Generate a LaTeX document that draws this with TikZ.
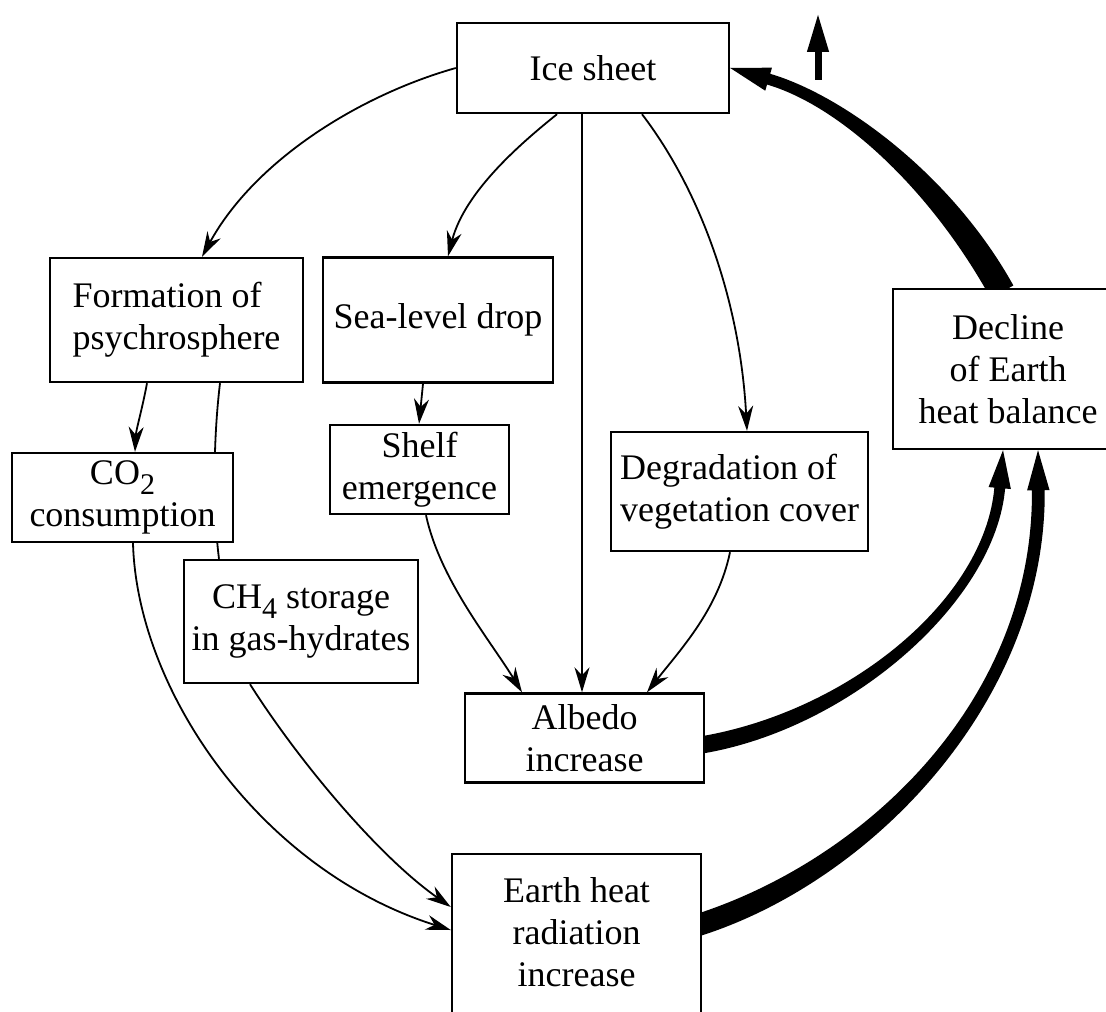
\documentclass[tikz,border=0pt]{standalone}
\usepackage{fontspec}
\setmainfont{Liberation Serif}
\usetikzlibrary{arrows.meta,calc}
\pgfdeclarelayer{background}
\pgfsetlayers{background,main}
\newcommand\mysub[1]{\raisebox{-5pt}{\fontsize{15}{15}\selectfont #1}}
% tapered thick arrow: #1 start, #2 ctrl1, #3 ctrl2, #4 tip, #5 half width at start, #6 half width at head, #7 head length, #8 head half width
\newcommand\taper[8]{%
  \coordinate (tpH) at ($(#4)!#7!(#3)$);
  \coordinate (tpSl) at ($(#1)!#5!90:(#2)$);
  \coordinate (tpSr) at ($(#1)!#5!-90:(#2)$);
  \coordinate (tpHl) at ($(tpH)!#6!-90:(#3)$);
  \coordinate (tpHr) at ($(tpH)!#6!90:(#3)$);
  \coordinate (tpAl) at ($(tpH)!#8!-90:(#3)$);
  \coordinate (tpAr) at ($(tpH)!#8!90:(#3)$);
  \fill[black] (tpSl) .. controls ($(#2)+(tpSl)-(#1)$) and ($(#3)+(tpHl)-(tpH)$) .. (tpHl)
     -- (tpAl) -- (#4) -- (tpAr) -- (tpHr)
     .. controls ($(#3)+(tpHr)-(tpH)$) and ($(#2)+(tpSr)-(#1)$) .. (tpSr) -- cycle;
}
\begin{document}
\begin{tikzpicture}[x=0.5pt,y=-0.5pt,
  box/.style={draw, line width=1.2pt, fill=white, inner sep=0pt, align=center,
              font=\fontsize{18}{21}\selectfont},
  txt/.style={inner sep=0pt, align=center, font=\fontsize{18}{21}\selectfont},
  conn/.style={line width=0.9pt, -{Stealth[length=12.5pt,width=7.5pt,inset=4pt]}},
]
\useasboundingbox (0,0) rectangle (1106,1011);
\clip (0,0) rectangle (1106,1011);

% nodes
\node[box, minimum width=136pt, minimum height=45pt] (ice) at (593,68) {Ice sheet};
\node[box, minimum width=126.5pt, minimum height=62pt, align=left] (form) at (176.5,320) {Formation of\\psychrosphere};
\node[box, minimum width=115pt, minimum height=62.5pt] (sea) at (438,320) {Sea-level drop};
\node[box, minimum width=89.5pt, minimum height=44.5pt] (shelf) at (419.5,469.5) {Shelf\\emergence};
\node[box, minimum width=110.5pt, minimum height=44.5pt] (co2) at (122.5,497.5) {CO\mysub{2}\\consumption};
\node[box, minimum width=117pt, minimum height=61.5pt] (ch4) at (301,621.5) {CH\mysub{4} storage\\in gas-hydrates};
\node[box, minimum width=128.5pt, minimum height=59.5pt, align=left] (deg) at (739.5,491.5) {Degradation of\\vegetation cover};
\node[box, minimum width=119.5pt, minimum height=44.5pt] (albedo) at (584.5,738) {Albedo\\increase};
\node[box, minimum width=124.5pt, minimum height=100pt, anchor=north] (earth) at (576.5,853) {};
\node[txt, anchor=north] (earthtxt) at (576.5,877) {Earth heat\\radiation\\increase};
\node[box, minimum width=115pt, minimum height=80pt] (decline) at (1008,369) {Decline\\of Earth\\heat balance};

% background connectors
\begin{pgfonlayer}{background}
  \draw[line width=0.9pt] ($(form.south)+(43.5,0)$) .. controls (212,450) and (214,520) .. ($(ch4.north)+(-82,0)$);
  % thick feedback arrows
  \coordinate (s12) at ($(albedo.east)+(-4,7)$);
  \coordinate (a12) at (850,720);
  \coordinate (b12) at (990,600);
  \coordinate (e12) at ($(decline.south)+(-5,0)$);
  \taper{s12}{a12}{b12}{e12}{4.3pt}{2.7pt}{19pt}{5.6pt}
  \coordinate (s13) at ($(earth.north east)+(-4,72)$);
  \coordinate (a13) at (870,870);
  \coordinate (b13) at (1040,700);
  \coordinate (e13) at ($(decline.south)+(30,0)$);
  \taper{s13}{a13}{b13}{e13}{5.5pt}{3.2pt}{20pt}{5.6pt}
  \coordinate (s14) at ($(decline.north)+(-6,4)$);
  \coordinate (a14) at (940,180);
  \coordinate (b14) at (840,100);
  \coordinate (e14) at (ice.east);
  \taper{s14}{a14}{b14}{e14}{6.5pt}{2.8pt}{20pt}{6pt}
\end{pgfonlayer}

% thin connectors
\draw[conn] (ice.west) .. controls (360,95) and (255,160) .. ($(form.north)+(25.5,0)$);
\draw[conn] ($(ice.south)+(-36,0)$) .. controls (525,140) and (465,190) .. ($(sea.north)+(10,0)$);
\draw[conn] ($(ice.south)+(-11,0)$) -- ($(albedo.north)+(-2.5,0)$);
\draw[conn] ($(ice.south)+(49,0)$) .. controls (700,190) and (740,300) .. ($(deg.north)+(7.5,0)$);
\draw[conn] ($(form.south)+(-29.5,0)$) .. controls (142,410) and (136,430) .. ($(co2.north)+(12.5,0)$);
\draw[conn] ($(sea.south)+(-15,0)$) -- ($(shelf.north)+(-0.5,0)$);
\draw[conn] ($(shelf.south)+(6.5,0)$) .. controls (440,580) and (490,640) .. ($(albedo.north)+(-62.5,0)$);
\draw[conn] ($(deg.south)+(-9.5,0)$) .. controls (718,610) and (680,650) .. ($(albedo.north)+(62.5,0)$);
\draw[conn] ($(co2.south)+(10.5,0)$) .. controls (137,690) and (260,870) .. ($(earth.north west)+(0,77)$);
\draw[conn] ($(ch4.south)+(-51,0)$) .. controls (298,760) and (378,856) .. ($(earth.north west)+(0,54)$);

% up arrow
\coordinate (upA) at (818,80);
\coordinate (upB) at (818,13);
\draw[line width=3.5pt, -{Triangle[length=19.5pt,width=10pt]}] (upA) -- (upB);
\end{tikzpicture}
\end{document}
